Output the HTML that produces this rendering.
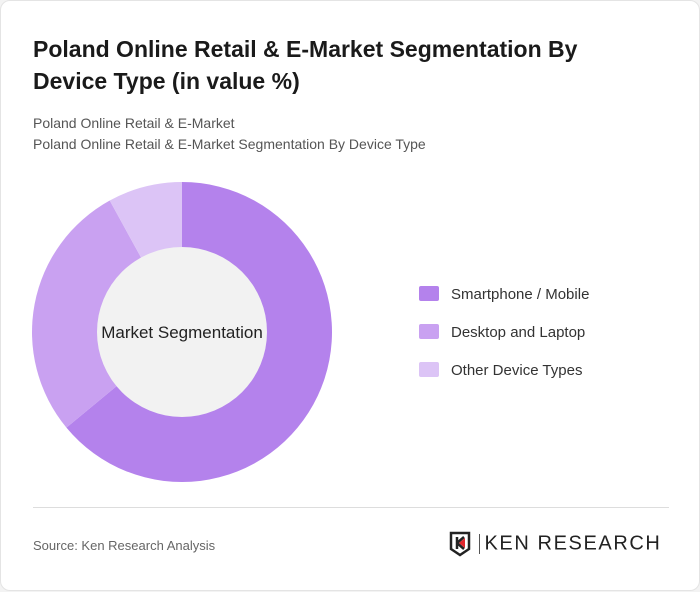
<!DOCTYPE html>
<html><head><meta charset="utf-8"><style>
body{margin:0;width:700px;height:591px;background:#f3f3f3;font-family:"Liberation Sans",sans-serif;}
.card{position:absolute;left:0;top:0;width:698px;height:589px;background:#fff;border:1px solid #e4e4e4;border-radius:10px;}
h1{position:absolute;left:32px;top:32px;margin:0;font-size:23px;line-height:32px;font-weight:bold;color:#1a1a1a;width:600px;}
.sub{position:absolute;left:32px;font-size:14px;color:#555;}
.leg{position:absolute;left:418px;font-size:15px;color:#333;}
.leg span{display:inline-block;width:20px;height:15px;border-radius:2px;vertical-align:-2px;margin-right:12px;}
</style></head><body>
<div class="card">
<h1>Poland Online Retail &amp; E-Market Segmentation By Device Type (in value %)</h1>
<div class="sub" style="top:114px">Poland Online Retail &amp; E-Market</div>
<div class="sub" style="top:135px">Poland Online Retail &amp; E-Market Segmentation By Device Type</div>
<svg id="donut" width="700" height="591" style="position:absolute;left:0;top:0"></svg>
<div class="leg" style="top:285px"><span style="background:#b482ec"></span>Smartphone / Mobile</div>
<div class="leg" style="top:323px"><span style="background:#c9a1f1"></span>Desktop and Laptop</div>
<div class="leg" style="top:361px"><span style="background:#dcc4f6"></span>Other Device Types</div>
<div style="position:absolute;left:32px;top:506px;width:636px;height:1px;background:#ddd"></div>
<div class="sub" style="top:537px;font-size:13px;color:#666">Source: Ken Research Analysis</div>
<div style="position:absolute;left:448px;top:530px;white-space:nowrap">
<svg width="22" height="26" style="vertical-align:middle"><path d="M2 2h18v16l-9 6-9-6z" fill="none" stroke="#222" stroke-width="2.5"/><path d="M8 6v12M8 12l7-6M8 12l7 6" stroke="#222" stroke-width="2.5" fill="none"/><path d="M10 12l6-5v10z" fill="#e0262d"/></svg>
<span style="display:inline-block;width:1px;height:20px;background:#555;vertical-align:middle;margin:0 4px"></span><span style="font-size:20px;letter-spacing:1.6px;color:#222;vertical-align:middle">KEN RESEARCH</span>
</div>
</div>
<script>
const categories=["Smartphone / Mobile","Desktop and Laptop","Other Device Types"];
const values=[64,28,8];
const colors=["#b482ec","#c9a1f1","#dcc4f6"];
const svg=document.getElementById('donut');
const cx=181,cy=331,R=150,r=85;
const total=values.reduce((a,b)=>a+b,0);
let a0=0;
function pt(a,rad){return [cx+rad*Math.sin(a),cy-rad*Math.cos(a)];}
values.forEach((v,i)=>{
 const a1=a0+v/total*2*Math.PI;
 const [x0,y0]=pt(a0,R),[x1,y1]=pt(a1,R);
 const large=(a1-a0)>Math.PI?1:0;
 const p=document.createElementNS('http://www.w3.org/2000/svg','path');
 p.setAttribute('d',`M${cx},${cy}L${x0},${y0}A${R},${R} 0 ${large} 1 ${x1},${y1}Z`);
 p.setAttribute('fill',colors[i]);
 
 
 svg.appendChild(p);
 a0=a1;
});
const c=document.createElementNS('http://www.w3.org/2000/svg','circle');
c.setAttribute('cx',cx);c.setAttribute('cy',cy);c.setAttribute('r',r);c.setAttribute('fill','#f2f2f2');


svg.appendChild(c);
const t=document.createElementNS('http://www.w3.org/2000/svg','text');
t.setAttribute('x',cx);t.setAttribute('y',cy+6);t.setAttribute('text-anchor','middle');
t.setAttribute('font-size','17');t.setAttribute('fill','#222');t.setAttribute('font-family','Liberation Sans, sans-serif');
t.textContent='Market Segmentation';


svg.appendChild(t);
</script>
</body></html>
